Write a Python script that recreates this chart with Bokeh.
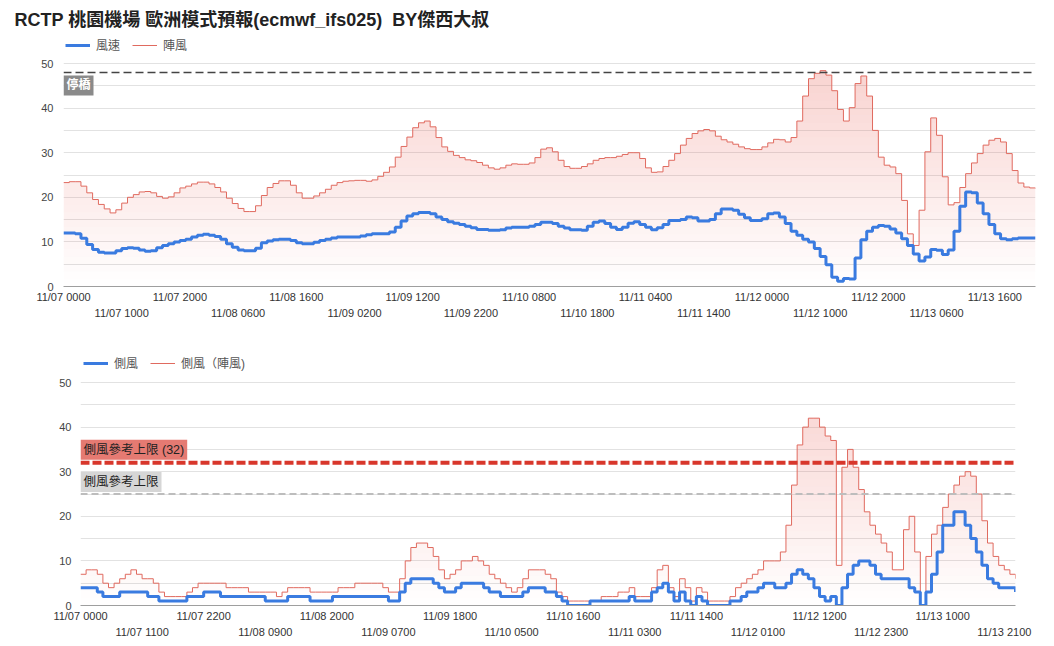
from bokeh.plotting import figure
from bokeh.models import Range1d, FixedTicker, LinearAxis, Span, Label, Legend, LegendItem
from bokeh.embed import file_html
from bokeh.resources import INLINE

# the second gap character is a no-break space so the double space survives in SVG
title_text = "RCTP 桃園機場 歐洲模式預報(ecmwf_ifs025) \u00a0BY傑西大叔"

# hourly forecast, 11/07 0000 -> 11/13 2300
hours = list(range(168))

wind_speed = [
    12.0, 12.0, 11.8, 10.8, 9.4, 8.3, 7.7, 7.5, 7.5, 8.0,
    8.5, 8.7, 8.6, 8.2, 7.9, 8.0, 8.7, 9.2, 9.6, 10.0,
    10.3, 10.6, 11.1, 11.5, 11.7, 11.5, 11.2, 10.6, 9.6, 8.8,
    8.2, 8.0, 8.0, 8.6, 9.8, 10.2, 10.5, 10.6, 10.6, 10.3,
    9.8, 9.6, 9.6, 9.9, 10.3, 10.6, 10.9, 11.1, 11.1, 11.1,
    11.1, 11.3, 11.6, 11.8, 11.8, 11.8, 12.2, 13.3, 14.7, 15.8,
    16.3, 16.6, 16.6, 16.3, 15.6, 15.0, 14.5, 14.2, 13.9, 13.5,
    13.2, 12.8, 12.8, 12.6, 12.6, 12.7, 13.1, 13.3, 13.3, 13.3,
    13.5, 13.9, 14.4, 14.4, 14.1, 13.5, 13.1, 12.7, 12.7, 12.6,
    13.5, 14.4, 14.7, 14.1, 13.3, 12.8, 13.3, 14.2, 14.5, 13.9,
    13.3, 12.7, 13.2, 13.9, 14.8, 14.8, 15.0, 15.6, 15.4, 14.7,
    14.7, 15.0, 16.3, 17.4, 17.4, 17.1, 16.2, 15.4, 14.8, 14.8,
    15.2, 16.3, 16.5, 15.6, 14.1, 12.4, 11.5, 10.6, 10.0, 8.5,
    6.7, 4.9, 2.1, 1.2, 1.8, 1.7, 6.4, 10.5, 12.4, 13.3,
    13.7, 13.5, 12.9, 12.0, 10.7, 9.2, 7.3, 5.7, 6.6, 8.3,
    8.1, 7.2, 8.2, 12.4, 18.0, 21.2, 21.0, 18.7, 16.3, 13.9,
    11.8, 10.7, 10.5, 10.7, 10.9, 10.9, 10.9, 10.9,
]

wind_gust = [
    23.3, 23.5, 23.5, 22.5, 21.0, 19.5, 18.4, 17.4, 16.5, 17.2,
    18.7, 20.0, 20.6, 21.2, 21.3, 21.0, 20.2, 19.8, 20.1, 21.0,
    22.1, 22.5, 23.0, 23.4, 23.4, 23.0, 22.2, 21.2, 19.8, 18.6,
    17.5, 16.8, 16.8, 18.1, 20.4, 22.2, 23.1, 23.7, 23.7, 22.7,
    21.0, 19.8, 19.8, 20.3, 21.0, 21.8, 22.7, 23.3, 23.6, 23.7,
    23.8, 23.8, 23.6, 23.9, 24.7, 25.6, 26.8, 29.0, 31.4, 33.5,
    35.6, 36.7, 37.1, 35.8, 33.4, 31.3, 30.3, 29.4, 28.9, 28.4,
    28.2, 27.8, 27.2, 26.6, 26.3, 26.6, 27.2, 27.5, 27.4, 27.4,
    27.7, 28.9, 30.8, 31.1, 30.2, 28.3, 26.9, 26.5, 26.5, 26.9,
    27.5, 28.3, 28.7, 28.9, 28.9, 29.2, 29.6, 30.0, 30.0, 28.7,
    26.6, 25.6, 25.7, 26.9, 28.3, 29.8, 31.7, 33.2, 34.3, 34.9,
    35.2, 34.9, 33.7, 32.9, 32.4, 31.9, 31.3, 30.9, 30.7, 30.7,
    31.3, 32.2, 33.0, 32.9, 32.4, 33.4, 37.1, 42.7, 46.6, 47.8,
    48.4, 47.4, 43.9, 39.7, 37.1, 40.1, 45.5, 47.2, 42.7, 35.0,
    29.0, 27.2, 26.8, 25.3, 19.3, 11.8, 9.2, 17.1, 30.2, 37.8,
    33.9, 24.6, 18.3, 18.8, 22.2, 25.3, 27.7, 29.8, 31.7, 32.8,
    33.2, 32.4, 29.8, 26.0, 23.2, 22.3, 22.1, 22.0,
]

crosswind = [
    4, 4, 4, 3, 2, 2, 2, 3, 3, 3,
    3, 3, 2, 2, 1, 1, 1, 1, 1, 2,
    2, 2, 3, 3, 3, 2, 2, 2, 2, 2,
    2, 2, 2, 1, 1, 1, 1, 2, 2, 2,
    2, 1, 1, 1, 1, 2, 2, 2, 2, 2,
    2, 2, 2, 2, 2, 1, 1, 3, 5, 6,
    6, 6, 6, 5, 4, 3, 3, 4, 5, 5,
    5, 5, 4, 3, 3, 2, 2, 2, 2, 3,
    4, 4, 4, 3, 3, 2, 1, 0, 0, 0,
    0, 1, 1, 1, 1, 1, 1, 1, 2, 1,
    1, 1, 3, 4, 5, 3, 1, 3, 1, 0,
    2, 1, 0, 0, 0, 0, 1, 1, 2, 3,
    3, 4, 5, 5, 4, 4, 5, 7, 8, 7,
    6, 4, 2, 1, 2, 0, 4, 7, 9, 10,
    10, 9, 7, 6, 6, 6, 6, 6, 4, 3,
    0, 3, 7, 12, 18, 18, 21, 21, 18, 15,
    12, 9, 6, 5, 4, 4, 4, 3,
]

crosswind_gust = [
    7, 8, 8, 7, 5, 4, 5, 6, 7, 8,
    7, 6, 6, 5, 3, 2, 2, 2, 2, 3,
    4, 5, 5, 5, 5, 5, 4, 4, 4, 4,
    3, 3, 3, 3, 3, 2, 3, 4, 4, 4,
    4, 3, 3, 3, 3, 3, 4, 4, 4, 5,
    5, 5, 5, 5, 4, 3, 3, 6, 10, 13,
    14, 14, 13, 11, 8, 6, 7, 8, 10, 10,
    11, 10, 9, 7, 6, 5, 4, 3, 4, 6,
    8, 8, 8, 7, 6, 3, 2, 1, 1, 1,
    1, 1, 1, 2, 2, 2, 3, 3, 4, 2,
    2, 2, 4, 8, 9, 4, 2, 6, 4, 1,
    4, 3, 1, 1, 1, 1, 2, 4, 5, 6,
    7, 8, 10, 10, 10, 12, 18, 27, 36, 40,
    42, 42, 40, 38, 37, 9, 31, 35, 31, 26,
    21, 18, 16, 14, 12, 8, 8, 17, 20, 12,
    0, 11, 16, 18, 22, 25, 27, 29, 30, 29,
    25, 19, 14, 11, 9, 8, 7, 6,
]

top_tick_labels = [
    "11/07 0000", "11/07 1000", "11/07 2000", "11/08 0600", "11/08 1600",
    "11/09 0200", "11/09 1200", "11/09 2200", "11/10 0800", "11/10 1800",
    "11/11 0400", "11/11 1400", "11/12 0000", "11/12 1000", "11/12 2000",
    "11/13 0600", "11/13 1600",
]
bottom_tick_labels = [
    "11/07 0000", "11/07 1100", "11/07 2200", "11/08 0900", "11/08 2000",
    "11/09 0700", "11/09 1800", "11/10 0500", "11/10 1600", "11/11 0300",
    "11/11 1400", "11/12 0100", "11/12 1200", "11/12 2300", "11/13 1000",
    "11/13 2100",
]
y_tick_values = [0, 10, 20, 30, 40, 50]
y_grid_values = [0, 5, 10, 15, 20, 25, 30, 35, 40, 45, 50]

stop_bridge_level = 48
stop_bridge_text = "停橋"
xwind_limit_32 = 32
xwind_limit_32_text = "側風參考上限 (32)"
xwind_limit_25 = 25
xwind_limit_25_text = "側風參考上限"

top_legend = ["風速", "陣風"]
bottom_legend = ["側風", "側風（陣風)"]

assert len(wind_speed) == 168 and len(wind_gust) == 168
assert len(crosswind) == 168 and len(crosswind_gust) == 168

FONT = "Liberation Sans, Noto Sans CJK TC"
BLUE = "#3a7be0"
RED = "#e06a5f"
TXT = "#444444"
PX_PER_UNIT = 4.46  # vertical scale shared by both charts


def tick_hour(lbl):
    day = int(lbl[3:5]) - 7
    return day * 24 + int(lbl[6:8])


def gradient_area(p, x, y, top=50, n=30, color="#e8584d", max_alpha=0.27):
    stepv = top / n
    for k in range(n):
        lo, hi = k * stepv, (k + 1) * stepv
        y1 = [min(v, lo) for v in y]
        y2 = [min(v, hi) for v in y]
        alpha = max_alpha * (k + 0.5) / n
        p.varea_step(x=x, y1=y1, y2=y2, step_mode="after",
                     fill_color=color, fill_alpha=alpha)


def make_fig(height, left, right, top, bottom, tick_labels, ystd, title=None):
    frame_h = height - top - bottom
    p = figure(width=1054, height=height, x_range=Range1d(0, 167),
               y_range=Range1d(0, frame_h / PX_PER_UNIT),
               output_backend="svg", toolbar_location=None, title=title,
               min_border_left=left, min_border_right=right,
               min_border_top=top, min_border_bottom=bottom)
    p.outline_line_color = None
    p.background_fill_color = "white"
    p.border_fill_color = "white"
    p.xgrid.visible = False
    p.ygrid.ticker = FixedTicker(ticks=y_grid_values)
    p.ygrid.grid_line_color = "#e2e2e2"
    p.yaxis.ticker = FixedTicker(ticks=y_tick_values)
    p.yaxis.axis_line_color = None
    p.yaxis.major_tick_line_color = None
    p.yaxis.minor_tick_line_color = None
    p.yaxis.major_tick_out = 0
    p.yaxis.major_label_text_font = FONT
    p.yaxis.major_label_text_font_size = "11px"
    p.yaxis.major_label_text_color = TXT
    p.yaxis.major_label_standoff = ystd

    ticks = [tick_hour(s) for s in tick_labels]
    overrides = {t: s for t, s in zip(ticks, tick_labels)}
    ax = p.xaxis[0]
    ax.ticker = FixedTicker(ticks=ticks[0::2])
    ax.major_label_overrides = overrides
    ax.axis_line_color = "#9e9e9e"
    ax.axis_line_width = 1
    ax.major_tick_line_color = None
    ax.minor_tick_line_color = None
    ax.major_tick_out = 0
    ax.major_label_standoff = 4
    ax.major_label_text_font = FONT
    ax.major_label_text_font_size = "11px"
    ax.major_label_text_color = "#333333"
    ax2 = LinearAxis(ticker=FixedTicker(ticks=ticks[1::2]), major_label_overrides=overrides,
                     axis_line_color=None, major_tick_line_color=None, minor_tick_line_color=None,
                     major_tick_out=0, major_label_standoff=1, major_label_text_font=FONT,
                     major_label_text_font_size="11px", major_label_text_color="#333333")
    p.add_layout(ax2, "below")
    return p


def make_legend(labels, renderers, loc):
    lg = Legend(items=[LegendItem(label=l, renderers=[r]) for l, r in zip(labels, renderers)],
                orientation="horizontal", location=loc,
                border_line_color=None, background_fill_alpha=0,
                label_text_font=FONT, label_text_font_size="12px", label_text_color="#555555",
                glyph_width=25, glyph_height=12, label_standoff=6, spacing=12,
                padding=2, margin=0, label_height=14)
    return lg


# ---------- top chart ----------
p1 = make_fig(330, 63, 19, 34, 44, top_tick_labels, 10, title=title_text)
p1.title.text_font = FONT
p1.title.text_font_size = "18px"
p1.title.text_font_style = "bold"
p1.title.text_color = "#222222"
p1.title.align = "left"
p1.title.offset = -49
p1.title.standoff = 9

gradient_area(p1, hours, wind_gust)
r_gust = p1.step(hours, wind_gust, mode="after", line_color=RED, line_width=1)
r_speed = p1.step(hours, wind_speed, mode="after", line_color=BLUE, line_width=3)

p1.add_layout(Span(location=stop_bridge_level, dimension="width", line_color="#444444",
                   line_width=1.5, line_dash="8 4"))
p1.add_layout(Label(x=0, y=stop_bridge_level, text=stop_bridge_text, text_baseline="top",
                    text_align="left", y_offset=-3, text_font=FONT, text_font_size="12px",
                    text_font_style="bold", text_color="white",
                    background_fill_color="#8a8a8a", padding=3))
p1.add_layout(make_legend(top_legend, [r_speed, r_gust], (2, 233)))

# ---------- bottom chart ----------
p2 = make_fig(316, 80, 39, 18, 41, bottom_tick_labels, 9)

gradient_area(p2, hours, crosswind_gust)
r_xg = p2.step(hours, crosswind_gust, mode="after", line_color=RED, line_width=1)
r_x = p2.step(hours, crosswind, mode="after", line_color=BLUE, line_width=3)

p2.add_layout(Span(location=xwind_limit_25, dimension="width", line_color="#bdbdbd",
                   line_width=2, line_dash="7 4"))
p2.add_layout(Span(location=xwind_limit_32, dimension="width", line_color="#d8372c",
                   line_width=4, line_dash="9 3"))
p2.add_layout(Label(x=0, y=xwind_limit_32, text=xwind_limit_32_text, text_baseline="bottom",
                    text_align="left", y_offset=3, text_font=FONT, text_font_size="12.5px",
                    text_color="#222222", background_fill_color="#e57a72", padding=3))
p2.add_layout(Label(x=0, y=xwind_limit_25, text=xwind_limit_25_text, text_baseline="bottom",
                    text_align="left", y_offset=2, text_font=FONT, text_font_size="12.5px",
                    text_color="#222222", background_fill_color="#d6d6d6", padding=3))
p2.add_layout(make_legend(bottom_legend, [r_x, r_xg], (3, 234)))

open("out.html", "w").write(file_html([p1, p2], INLINE))
